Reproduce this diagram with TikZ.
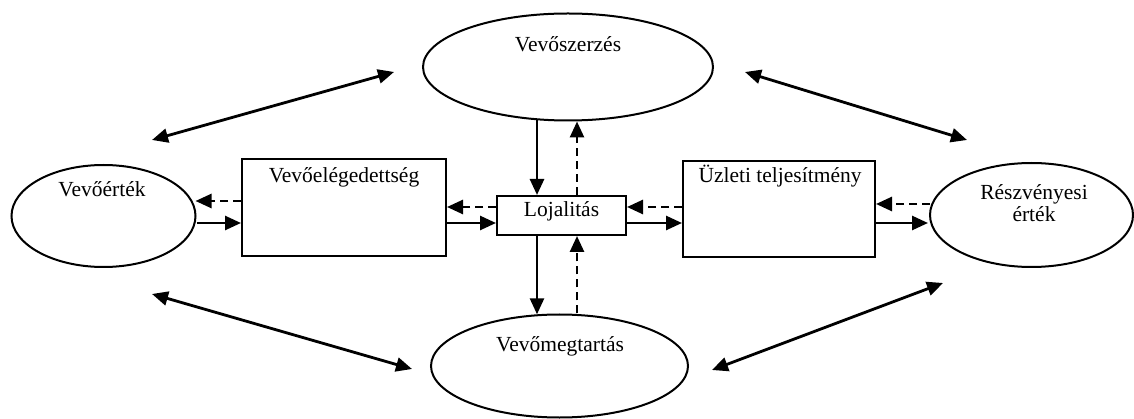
\documentclass[tikz,border=0pt]{standalone}
\usepackage{fontspec}
\setmainfont{Liberation Serif}
\usetikzlibrary{arrows.meta,shapes.geometric}
\begin{document}
\begin{tikzpicture}[x=1pt,y=-1pt,
  oval/.style={draw,ellipse,line width=2pt,inner sep=0pt},
  box/.style={draw,rectangle,line width=2pt,inner sep=0pt},
  lbl/.style={font=\fontsize{21.5}{24}\selectfont,anchor=base,inner sep=0pt},
  tip/.style={-{Triangle[length=16pt,width=14pt]}},
  both/.style={{Triangle[length=16pt,width=14pt]}-{Triangle[length=16pt,width=14pt]}},
  solidarr/.style={tip,line width=2.6pt},
  dasharr/.style={tip,line width=2.6pt,dash pattern=on 8pt off 5pt},
  link/.style={both,line width=2.8pt}]
\useasboundingbox (0,0) rectangle (1134,419);

% shapes
\node[oval,minimum width=184pt,minimum height=102pt] (ve) at (103.5,216) {};
\node[oval,minimum width=290pt,minimum height=107pt] (vsz) at (568,67) {};
\node[oval,minimum width=257pt,minimum height=103pt] (vm) at (559.5,366) {};
\node[oval,minimum width=203pt,minimum height=104pt] (rv) at (1031.5,215) {};
\node[box,minimum width=204pt,minimum height=97pt] (sat) at (344,207.5) {};
\node[box,minimum width=129pt,minimum height=39pt] (loj) at (561.5,215.5) {};
\node[box,minimum width=192pt,minimum height=96pt] (uz) at (779,209) {};

% texts
\node[lbl] (tve) at (102,197) {Vevőérték};
\node[lbl] (tsat) at (344,183) {Vevőelégedettség};
\node[lbl] (tloj) at (561.5,217) {Lojalitás};
\node[lbl] (tuz) at (780,183) {Üzleti teljesítmény};
\node[lbl] (trv1) at (1034,200) {Részvényesi};
\node[lbl] (trv2) at (1034,222) {érték};
\node[lbl] (tvsz) at (568,51.5) {Vevőszerzés};
\node[lbl] (tvm) at (560,351.5) {Vevőmegtartás};

% horizontal chain
\draw[solidarr] ([yshift=-7pt]ve.east) -- ([yshift=-15.5pt]sat.west);
\draw[dasharr] ([yshift=6.5pt]sat.west) -- ([yshift=15pt,xshift=-1pt]ve.east);
\draw[solidarr] ([yshift=-15.5pt]sat.east) -- ([yshift=-7.5pt]loj.west);
\draw[dasharr] ([yshift=8.5pt]loj.west) -- ([yshift=0.5pt]sat.east);
\draw[solidarr] ([yshift=-7.5pt]loj.east) -- ([yshift=-14pt]uz.west);
\draw[dasharr] ([yshift=2pt]uz.west) -- ([yshift=8.5pt]loj.east);
\draw[solidarr] ([yshift=-14pt]uz.east) -- ([yshift=-8pt,xshift=-1pt]rv.west);
\draw[dasharr] ([yshift=11pt,xshift=1pt]rv.west) -- ([yshift=5pt]uz.east);

% vertical chain
\draw[solidarr] ([xshift=-31pt,yshift=1.2pt]vsz.south) -- ([xshift=-24.5pt]loj.north);
\draw[dasharr] ([xshift=15.5pt]loj.north) -- ([xshift=9pt]vsz.south);
\draw[solidarr] ([xshift=-24.5pt]loj.south) -- ([xshift=-22.5pt,yshift=-0.8pt]vm.north);
\draw[dasharr] ([xshift=17.5pt]vm.north) -- ([xshift=15.5pt]loj.south);

% diagonal two-way links
\coordinate (a1) at (152,140);
\coordinate (a2) at (394,72);
\coordinate (b1) at (745,72);
\coordinate (b2) at (967,140);
\coordinate (c1) at (152,294);
\coordinate (c2) at (412,369);
\coordinate (d1) at (712,370);
\coordinate (d2) at (943,283);
\draw[link] (a1) -- (a2);
\draw[link] (b1) -- (b2);
\draw[link] (c1) -- (c2);
\draw[link] (d1) -- (d2);
\end{tikzpicture}
\end{document}
